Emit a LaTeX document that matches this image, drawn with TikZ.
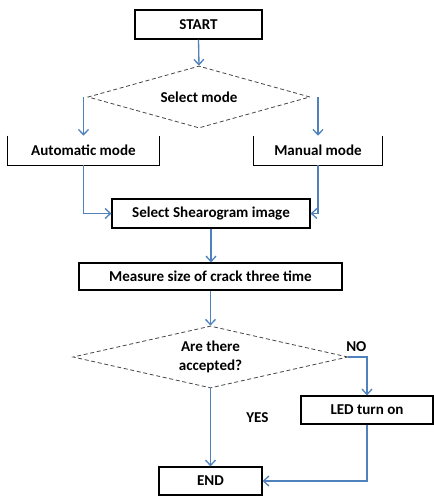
\documentclass[tikz,border=0pt]{standalone}
\usepackage{fontspec}
\setmainfont{Carlito}
\usetikzlibrary{shapes.geometric, arrows.meta, positioning, calc}
\definecolor{flowcolor}{RGB}{79, 129, 189}
\definecolor{dashcolor}{RGB}{70, 70, 70}

\begin{document}
\begin{tikzpicture}[
    x=0.75pt, y=-0.75pt,
    box/.style={
        rectangle,
        draw=black,
        line width=0.9pt,
        inner sep=0pt,
        align=center,
        font=\bfseries\fontsize{11.3}{14}\selectfont
    },
    openbox/.style={
        rectangle,
        inner sep=0pt,
        align=center,
        font=\bfseries\fontsize{11.3}{14}\selectfont
    },
    decision/.style={
        diamond,
        aspect=4.4,
        draw=dashcolor,
        densely dashed,
        line width=0.6pt,
        inner sep=0pt,
        align=center,
        font=\bfseries\fontsize{11.3}{14}\selectfont
    },
    arrow/.style={
        line width=1pt,
        draw=flowcolor,
        -{Straight Barb[length=4pt, width=7.5pt]}
    },
    tag/.style={
        font=\bfseries\fontsize{11.3}{14}\selectfont
    }
]

% Fix the frame to the page size
\useasboundingbox (0,0) rectangle (434,496);

% Main process nodes
\node[box, minimum width=95.25pt, minimum height=21.75pt] (start) at (198.5,24.5) {START};

\node[decision, minimum width=166.5pt, minimum height=46.5pt] (mode) at (199,97) {Select mode};

\node[openbox, minimum width=113.25pt, minimum height=21.75pt] (auto) at (83.5,150.5) {Automatic mode};
\node[openbox, minimum width=96pt, minimum height=21.75pt] (manual) at (318,150.5) {Manual mode};

\node[box, minimum width=148.5pt, minimum height=21.75pt] (shear) at (211,213.5) {Select Shearogram image};

\node[box, minimum width=197.25pt, minimum height=20.25pt] (measure) at (210.5,276.5) {Measure size of crack three time};

\node[decision, minimum width=206.25pt, minimum height=46.5pt] (accept) at (210.5,357) {Are there\\accepted?};

\node[box, minimum width=99pt, minimum height=21pt] (led) at (367,410) {LED turn on};

\node[box, minimum width=77.25pt, minimum height=21pt] (end) at (210.5,481) {END};

% Mode boxes have no top edge
\draw[line width=0.9pt] (auto.north west) -- (auto.south west) -- (auto.south east) -- (auto.north east);
\draw[line width=0.9pt] (manual.north west) -- (manual.south west) -- (manual.south east) -- (manual.north east);

% Main flow arrows
\draw[arrow] (start.south) -- (mode.north);
\draw[arrow] (mode.west -| auto.north) -- (auto.north);
\draw[arrow] (mode.east -| manual.north) -- (manual.north);
\draw[arrow] (auto.south) |- (shear.west);
\draw[arrow] (manual.south) |- (shear.east);
\draw[arrow] (shear.south) -- (shear.south |- measure.north);
\draw[arrow] (measure.south) -- (accept.north);

% Decision outcomes
\draw[arrow] (accept.east) -- node[tag, above, pos=0.5, xshift=-1pt] {NO} (accept.east -| led.north) -- (led.north);
\draw[arrow] (accept.south) -- node[tag, right=23pt, pos=0.38] {YES} (end.north);
\draw[arrow] (led.south) |- (end.east);

\end{tikzpicture}
\end{document}
